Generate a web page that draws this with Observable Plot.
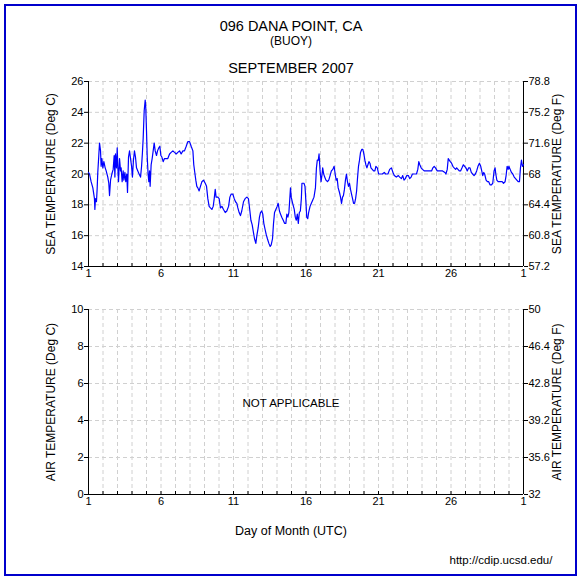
<!DOCTYPE html>
<html>
<head>
<meta charset="utf-8">
<script src="https://cdn.jsdelivr.net/npm/d3@7"></script>
<script src="https://cdn.jsdelivr.net/npm/@observablehq/plot@0.6"></script>
<style>
  html, body { margin: 0; padding: 0; background: #fff; }
  #chart { position: relative; width: 582px; height: 581px; font-family: "Liberation Sans", Arial, sans-serif; color: #000; }
  #border { position: absolute; left: 4px; top: 4px; width: 569px; height: 568px; border: 2px solid #0000cc; }
  .t { position: absolute; left: 0; width: 582px; text-align: center; white-space: nowrap; }
  .panel { position: absolute; left: 0; }
  .panel svg { overflow: visible; }
</style>
</head>
<body>
<div id="chart">
  <div id="border"></div>
  <div class="t" id="title1" style="top:19px;font-size:14.5px;line-height:14.5px;">096 DANA POINT, CA</div>
  <div class="t" id="title2" style="top:35px;font-size:12px;line-height:12px;">(BUOY)</div>
  <div class="t" id="title3" style="top:61px;font-size:14.5px;line-height:14.5px;">SEPTEMBER 2007</div>
  <div class="panel" id="top" style="top:0px;"></div>
  <div class="panel" id="bottom" style="top:290px;"></div>
  <div class="t" id="xlabel" style="top:524.5px;font-size:12.5px;line-height:12.5px;">Day of Month (UTC)</div>
  <div class="t" id="url" style="top:555px;left:441px;width:120px;font-size:11.5px;line-height:11.5px;">http://cdip.ucsd.edu/</div>
</div>
<script>
// ---- data ----
const days = [
  1.00,1.07,1.18,1.30,1.41,1.44,1.48,1.55,1.60,1.64,1.71,1.76,1.83,1.87,1.92,1.99,
  2.06,2.15,2.22,2.33,2.40,2.45,2.52,2.61,2.70,2.77,2.82,2.86,2.93,2.98,
  3.02,3.07,3.14,3.21,3.25,3.32,3.39,3.44,3.51,3.57,3.64,3.69,3.76,3.83,3.90,3.97,
  4.03,4.10,4.17,4.24,4.31,4.40,4.49,4.59,4.66,4.72,4.77,4.84,4.91,4.95,
  5.00,5.05,5.11,5.16,5.21,5.25,5.32,5.39,5.46,5.53,5.60,5.69,5.76,5.85,5.92,5.99,
  6.06,6.15,6.24,6.36,6.47,6.59,6.70,6.82,6.93,7.05,7.16,7.28,7.39,7.51,7.62,7.74,7.85,7.97,
  8.08,8.20,8.26,8.33,8.40,8.47,8.54,8.63,8.72,8.82,8.93,9.05,9.14,9.23,9.32,9.41,9.51,9.60,9.67,9.74,9.80,9.92,
  10.01,10.10,10.20,10.31,10.43,10.54,10.66,10.75,10.84,10.95,11.05,11.14,11.23,11.30,11.39,11.48,11.57,11.69,11.80,11.92,
  12.03,12.13,12.20,12.29,12.36,12.45,12.54,12.61,12.70,12.79,12.86,12.95,13.02,13.09,13.18,13.25,13.34,13.44,13.53,13.60,13.69,13.76,13.83,13.92,
  14.01,14.08,14.17,14.24,14.33,14.43,14.52,14.61,14.68,14.75,14.82,14.89,14.93,14.98,
  15.08,15.19,15.26,15.33,15.40,15.47,15.54,15.61,15.68,15.72,15.79,15.86,15.93,
  16.00,16.05,16.12,16.18,16.28,16.37,16.46,16.55,16.65,16.72,16.78,16.85,16.90,16.97,
  17.04,17.11,17.15,17.22,17.29,17.38,17.48,17.57,17.66,17.75,17.85,17.94,
  18.01,18.08,18.15,18.22,18.31,18.38,18.45,18.52,18.58,18.65,18.72,18.79,18.86,18.93,
  19.00,19.07,19.14,19.21,19.28,19.35,19.42,19.49,19.55,19.62,19.69,19.76,19.85,19.92,19.99,
  20.06,20.13,20.20,20.27,20.34,20.41,20.48,20.57,20.66,20.75,20.82,20.92,
  21.01,21.12,21.26,21.40,21.49,21.65,21.77,21.89,22.00,22.09,22.23,22.37,22.46,22.58,22.67,22.76,22.85,22.95,
  23.06,23.15,23.25,23.34,23.50,23.62,23.71,23.78,23.85,23.94,24.03,24.17,24.31,24.49,24.66,24.75,24.84,24.93,
  25.05,25.23,25.42,25.58,25.65,25.74,25.81,25.88,25.95,26.04,26.13,26.22,26.32,26.39,26.48,26.57,26.66,26.76,26.85,26.94,
  27.03,27.12,27.22,27.31,27.40,27.49,27.59,27.68,27.77,27.86,27.96,28.05,28.12,28.19,28.26,28.32,28.42,28.51,28.60,28.69,28.79,28.88,28.97,
  29.04,29.09,29.16,29.25,29.39,29.53,29.62,29.73,29.80,29.87,29.94,29.99,
  30.08,30.17,30.26,30.36,30.45,30.54,30.63,30.72,30.79,30.86,30.93,31.00
];
const seaTempC = [
  20.1,20.0,19.5,19.1,18.4,17.7,18.4,18.2,19.1,20.1,21.2,22.0,21.5,20.5,21.0,20.4,
  20.8,20.4,20.2,19.8,19.4,18.6,19.6,20.0,20.3,21.2,19.8,21.3,20.4,21.7,
  20.5,19.5,21.0,20.2,20.4,19.5,20.2,19.6,20.1,19.5,20.0,18.8,21.1,21.5,21.0,20.5,
  19.8,20.9,21.5,21.1,20.4,20.2,20.0,19.8,20.5,21.4,22.3,24.1,24.8,24.3,
  22.8,21.1,20.0,19.5,20.2,19.2,20.6,21.0,21.5,22.0,21.5,21.2,21.5,21.7,21.8,21.2,
  21.1,20.8,21.0,21.0,21.0,21.3,21.4,21.5,21.4,21.3,21.4,21.5,21.3,21.5,21.5,21.8,22.1,22.1,
  21.8,21.5,20.6,20.1,19.6,19.2,19.1,18.9,19.2,19.5,19.6,19.4,19.2,18.4,17.9,17.8,17.7,17.9,18.4,19.0,18.5,18.5,
  18.4,17.8,17.9,17.7,17.5,17.6,17.9,18.5,18.7,18.7,18.4,18.2,18.1,17.8,17.5,17.3,17.6,18.2,18.4,18.5,
  18.4,17.6,17.0,16.7,16.3,15.8,15.5,16.0,16.5,17.2,17.5,17.6,17.4,16.8,16.4,16.1,15.8,15.5,15.3,15.4,15.8,16.8,17.5,17.7,
  17.9,18.1,17.6,17.4,17.2,17.0,16.8,16.8,17.4,17.2,17.5,18.5,19.1,18.5,
  18.1,17.7,17.2,17.0,17.4,16.8,17.5,17.6,18.4,19.4,19.4,19.4,19.2,
  18.1,17.2,17.1,17.5,17.9,18.1,18.3,18.5,19.1,20.4,20.9,20.9,21.3,20.2,
  19.5,20.0,20.4,20.0,19.8,19.6,19.5,19.6,19.9,20.2,20.3,20.5,
  20.0,19.6,19.7,19.1,18.8,18.5,18.1,18.5,18.6,19.0,19.6,20.0,19.5,19.2,
  19.4,19.0,18.7,18.4,18.1,18.1,18.4,18.9,19.7,20.5,20.9,21.4,21.6,21.6,21.3,
  20.9,20.6,20.4,20.6,20.8,20.7,20.4,20.3,20.2,20.2,20.5,20.4,
  20.0,20.0,20.0,20.1,20.0,20.0,20.3,20.4,20.1,19.9,19.8,19.9,19.8,19.7,19.9,19.6,19.7,19.9,
  19.9,19.7,19.8,20.0,20.0,20.0,20.3,20.8,20.6,20.4,20.3,20.2,20.2,20.2,20.2,20.4,20.5,20.4,
  20.2,20.2,20.2,20.1,20.0,20.3,21.0,20.9,20.8,20.7,20.5,20.4,20.3,20.4,20.3,20.2,20.2,20.4,20.6,20.5,
  20.4,20.2,20.4,20.4,20.1,20.0,19.9,20.0,20.2,20.5,20.7,20.5,20.2,19.9,20.1,20.0,19.6,19.5,19.5,19.3,19.3,19.4,20.2,
  20.4,20.0,19.6,19.5,19.5,19.5,19.4,19.5,19.9,20.5,20.3,20.5,
  20.3,20.1,20.0,19.8,19.7,19.6,19.5,19.5,20.4,20.9,20.5,20.6
];
const gridDays = [1,2,3,4,5,6,7,8,9,10,11,12,13,14,15,16,17,18,19,20,21,22,23,24,25,26,27,28,29,30,31];
const xTickDays = [1, 6, 11, 16, 21, 26, 31];
const xTickLabels = ["1", "6", "11", "16", "21", "26", "1"];
const seaTicksC = [14, 16, 18, 20, 22, 24, 26];
const seaTicksF = ["57.2", "60.8", "64.4", "68", "71.6", "75.2", "78.8"];
const airTicksC = [0, 2, 4, 6, 8, 10];
const airTicksF = ["32", "35.6", "39.2", "42.8", "46.4", "50"];

const seaData = days.map((d, i) => ({day: d, temp: seaTempC[i]}));
const xLabelMap = new Map(xTickDays.map((d, i) => [d, xTickLabels[i]]));

const FONT = "Liberation Sans, Arial, Helvetica, sans-serif";
const gridStyle = {stroke: "#d0d0d0", strokeOpacity: 1, strokeWidth: 1, strokeDasharray: "4,3"};

function panel({height, marginTop, marginBottom, yDomain, yTicks, yTicksF, labelC, labelF, extra}) {
  const innerH = height - marginTop - marginBottom;
  const fMap = new Map(yTicks.map((d, i) => [d, yTicksF[i]]));
  return Plot.plot({
    width: 582, height, marginLeft: 88, marginRight: 59, marginTop, marginBottom,
    style: {fontFamily: FONT, fontSize: "11px", color: "#000", background: "transparent", overflow: "visible"},
    x: {domain: [1, 31]},
    y: {domain: yDomain},
    marks: [
      Plot.gridX(gridDays, gridStyle),
      Plot.gridY(yTicks, gridStyle),
      Plot.ruleX(gridDays, {x: d => d, insetTop: innerH - 3, stroke: "#000"}),
      Plot.axisX(xTickDays, {tickSize: 0, tickPadding: 3, tickFormat: d => xLabelMap.get(d), label: null, fontSize: 11}),
      Plot.axisY(yTicks, {anchor: "left", tickSize: 4, tickPadding: 1, label: null, fontSize: 11}),
      Plot.axisY(yTicks, {anchor: "right", tickSize: 4, tickPadding: 1, tickFormat: d => fMap.get(d), label: null, fontSize: 11}),
      Plot.ruleX([yDomain && 1], {stroke: "#000"}),
      Plot.ruleX([31], {stroke: "#000"}),
      Plot.ruleY([yDomain[0]], {stroke: "#000"}),
      Plot.text([labelC], {frameAnchor: "left", textAnchor: "middle", dx: -37.5, rotate: -90, fontSize: 12}),
      Plot.text([labelF], {frameAnchor: "right", textAnchor: "middle", dx: 34, rotate: -90, fontSize: 12}),
      ...extra
    ]
  });
}

document.getElementById("top").appendChild(panel({
  height: 290, marginTop: 81, marginBottom: 24,
  yDomain: [14, 26], yTicks: seaTicksC, yTicksF: seaTicksF,
  labelC: "SEA TEMPERATURE (Deg C)", labelF: "SEA TEMPERATURE (Deg F)",
  extra: [Plot.line(seaData, {x: "day", y: "temp", stroke: "#0000ff", strokeWidth: 1.2})]
}));

document.getElementById("bottom").appendChild(panel({
  height: 225, marginTop: 19, marginBottom: 21,
  yDomain: [0, 10], yTicks: airTicksC, yTicksF: airTicksF,
  labelC: "AIR TEMPERATURE (Deg C)", labelF: "AIR TEMPERATURE (Deg F)",
  extra: [Plot.text(["NOT APPLICABLE"], {frameAnchor: "middle", dx: -15, dy: 1.5, fontSize: 11.5})]
}));
</script>
</body>
</html>
